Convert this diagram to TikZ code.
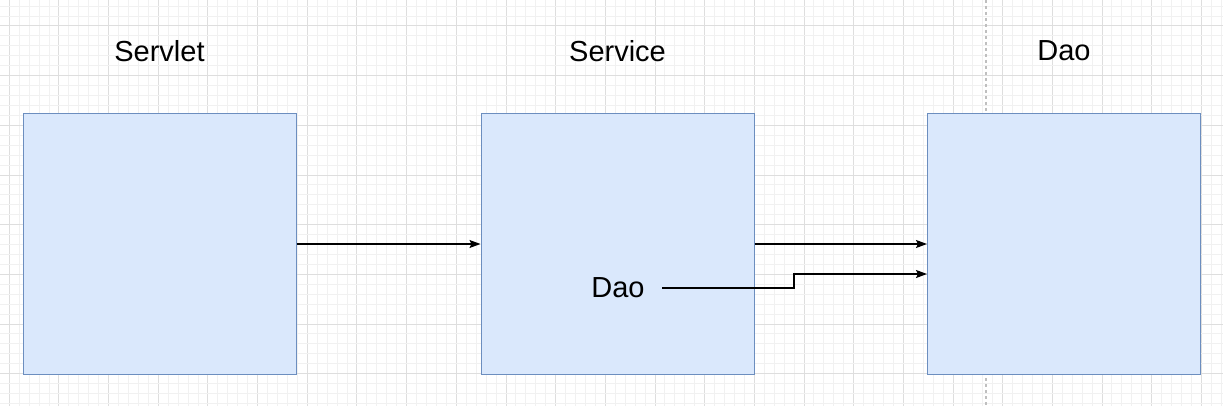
\documentclass[tikz,border=0pt]{standalone}
\usepackage{fontspec}
\setmainfont{Liberation Sans}
\usetikzlibrary{arrows.meta}

\definecolor{boxfill}{HTML}{DAE8FC}
\definecolor{boxline}{HTML}{6C8EBF}
\definecolor{minorgrid}{HTML}{F1F1F1}
\definecolor{majorgrid}{HTML}{DEDEDE}

\tikzset{
	layer/.style={draw=boxline, fill=boxfill, line width=1pt, minimum width=273pt, minimum height=260pt, inner sep=0pt},
	title/.style={font=\fontsize{29}{30}\selectfont, inner sep=0pt},
	call/.style={line width=1.1pt, -{Stealth[length=11pt, width=8pt, inset=2pt]}}
}

\begin{document}
\begin{tikzpicture}[x=1pt, y=-1pt]
	\useasboundingbox (0, 0) rectangle (1223, 406);
	\fill[white] (0, 0) rectangle (1223, 406);

	% grid
	\begin{scope}
		\clip (0, 0) rectangle (1223, 406);
		\foreach \i in {-1,...,123} {
			\pgfmathtruncatemacro{\m}{mod(\i+5, 5)}
			\ifnum\m=0
				\draw[majorgrid, line width=1pt] ({9.3+\i*9.934}, 0) -- ++(0, 406);
			\else
				\draw[minorgrid, line width=1pt] ({9.3+\i*9.934}, 0) -- ++(0, 406);
			\fi
		}
		\foreach \j in {-3,...,39} {
			\pgfmathtruncatemacro{\m}{mod(\j+5, 5)}
			\ifnum\m=0
				\draw[majorgrid, line width=1pt] (0, {26+\j*9.934}) -- ++(1223, 0);
			\else
				\draw[minorgrid, line width=1pt] (0, {26+\j*9.934}) -- ++(1223, 0);
			\fi
		}
	\end{scope}

	\draw[gray!50, line width=1.2pt, dash pattern=on 3pt off 3pt] (986, 0) -- (986, 406);

	% boxes
	\node[layer] (servlet) at (159.5, 244) {};
	\node[layer] (service) at (617.5, 244) {};
	\node[layer] (dao) at (1064, 244) {};

	\node[title] at (159.5, 51) {Servlet};
	\node[title] at (617.5, 51) {Service};
	\node[title] at (1064, 51) {Dao};

	\node[title] (inner) at (618, 288) {Dao};

	\coordinate (from) at (662, 288);
	\coordinate (to) at (dao.west |- 0, 274);

	\draw[call] (servlet.east) -- (service.west);
	\draw[call] (service.east) -- (dao.west);
	\draw[call] (from) -- (794, 288) -- (794, 274) -- (to);
\end{tikzpicture}
\end{document}
